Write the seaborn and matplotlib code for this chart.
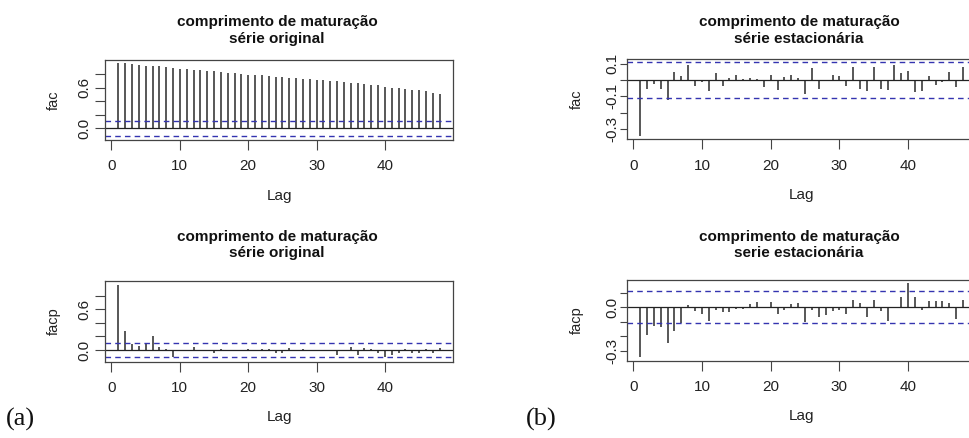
import numpy as np
import matplotlib
matplotlib.use("Agg")
import matplotlib.pyplot as plt
import seaborn as sns

# lags 1..48
lags = np.arange(1, 49)

# fac - serie original
fac_orig = [0.97, 0.96, 0.945, 0.935, 0.925, 0.92, 0.915, 0.905, 0.895, 0.88,
            0.87, 0.865, 0.86, 0.85, 0.84, 0.835, 0.82, 0.81, 0.80, 0.79,
            0.785, 0.78, 0.77, 0.76, 0.75, 0.745, 0.74, 0.73, 0.725, 0.715,
            0.71, 0.70, 0.69, 0.68, 0.675, 0.665, 0.655, 0.645, 0.635, 0.615,
            0.60, 0.59, 0.58, 0.57, 0.56, 0.545, 0.525, 0.50]

# facp - serie original
facp_orig = [0.96, 0.28, 0.09, 0.06, 0.10, 0.21, 0.05, 0.01, -0.10, 0.0,
             -0.02, 0.05, -0.01, -0.02, -0.04, 0.02, -0.02, -0.01, 0.0, 0.02,
             -0.02, 0.02, 0.02, -0.05, -0.05, 0.03, -0.01, 0.02, -0.01, 0.0,
             -0.01, 0.0, -0.08, -0.01, 0.04, -0.07, 0.03, 0.02, -0.05, -0.10,
             -0.08, -0.05, 0.01, -0.04, -0.04, 0.01, -0.05, 0.03]

# fac - serie estacionaria
fac_est = [-0.343, -0.057, -0.025, -0.053, -0.12, 0.05, 0.027, 0.092, -0.037, -0.014,
           -0.065, 0.041, -0.035, 0.012, 0.03, 0.004, 0.01, 0.008, -0.04, 0.03,
           -0.06, 0.016, 0.03, 0.012, -0.088, 0.071, -0.057, 0.002, 0.031, 0.025,
           -0.037, 0.082, -0.057, -0.065, 0.082, -0.057, -0.061, 0.092, 0.045, 0.057,
           -0.071, -0.067, 0.027, -0.033, -0.01, 0.047, -0.041, 0.08]

# facp - serie estacionaria
facp_est = [-0.344, -0.192, -0.127, -0.139, -0.25, -0.164, -0.111, 0.018, -0.023, -0.044,
            -0.097, -0.016, -0.03, -0.032, -0.012, -0.014, 0.023, 0.035, 0.002, 0.035,
            -0.044, -0.02, 0.02, 0.028, -0.099, -0.02, -0.069, -0.056, -0.025, -0.02,
            -0.046, 0.05, 0.028, -0.065, 0.05, -0.023, -0.092, 0.003, 0.069, 0.168,
            0.069, -0.016, 0.044, 0.046, 0.044, 0.028, -0.081, 0.05]

clim = 0.11

sns.set_theme(style="white")
plt.rcParams['font.family'] = ['Liberation Sans', 'DejaVu Sans']

W, H = 969, 438
fig = plt.figure(figsize=(W / 100, H / 100), dpi=100)


def rect(x0, x1, y0, y1):
    # caixa em pixels -> fracao da figura
    return [x0 / W, 1 - y1 / H, (x1 - x0) / W, (y1 - y0) / H]


def painel(r, vals, ylim, yticks, ylabs, ylab, title_y, title2, ytick_len, tick_pad, ylab_pad, cx):
    ax = fig.add_axes(rect(*r))
    ax.vlines(lags, 0, vals, color="#2a2a2a", linewidth=1.1)
    ax.axhline(0, color="#222222", linewidth=0.9)
    ax.axhline(clim, color="#3434b0", linestyle=(0, (4, 3)), linewidth=1.0)
    ax.axhline(-clim, color="#3434b0", linestyle=(0, (4, 3)), linewidth=1.0)
    ax.set_xlim(-0.95, 49.95)
    ax.set_ylim(*ylim)
    ax.set_xticks([0, 10, 20, 30, 40])
    ax.set_yticks(yticks)
    ax.set_yticklabels(ylabs, rotation=90, va="center")
    ax.tick_params(axis="both", direction="out", width=0.8,
                   color="#444444", labelsize=11, labelcolor="#222222", left=True, bottom=True)
    ax.tick_params(axis="x", length=7, pad=7)
    ax.tick_params(axis="y", length=ytick_len, pad=tick_pad)
    for s in ax.spines.values():
        s.set_color("#444444")
        s.set_linewidth(0.9)
    ax.set_ylabel(ylab, fontsize=10.5, color="#222222", labelpad=ylab_pad)
    ax.set_xlabel("Lag", fontsize=11, color="#222222", labelpad=11)
    fig.text(cx / W, 1 - title_y / H, "comprimento de maturação\n" + title2,
             ha="center", va="center", fontsize=11, fontweight="bold",
             color="#111111", linespacing=1.25)
    return ax


a1 = painel((105, 453, 60, 140), fac_orig, (-0.173, 1.007),
            [0.0, 0.2, 0.4, 0.6, 0.8], ["0.0", "", "", "0.6", ""],
            "fac", 30.4, "série original", 7, 3, 12, 277)
a2 = painel((105, 453, 280.7, 361.7), facp_orig, (-0.173, 1.022),
            [0.0, 0.2, 0.4, 0.6, 0.8], ["0.0", "", "", "0.6", ""],
            "facp", 245, "série original", 7, 3, 12, 277)
a3 = painel((626.7, 976.5, 59.3, 139.3), fac_est, (-0.364, 0.127),
            [0.1, 0.0, -0.1, -0.2, -0.3], ["0.1", "", "-0.1", "", "-0.3"],
            "fac", 30.4, "série estacionária", 5, 0.5, 15, 799)
a4 = painel((626.7, 976.5, 280, 360.7), facp_est, (-0.37, 0.189),
            [0.1, 0.0, -0.1, -0.2, -0.3], ["", "0.0", "", "", "-0.3"],
            "facp", 245, "serie estacionária", 5, 0.5, 15, 799)

fig.text(6 / W, 1 - 419 / H, "(a)", family="Liberation Serif", fontsize=19,
         va="center", ha="left", color="#111111")
fig.text(526 / W, 1 - 419 / H, "(b)", family="Liberation Serif", fontsize=19,
         va="center", ha="left", color="#111111")

fig.savefig("out.png", dpi=100, facecolor="white")
